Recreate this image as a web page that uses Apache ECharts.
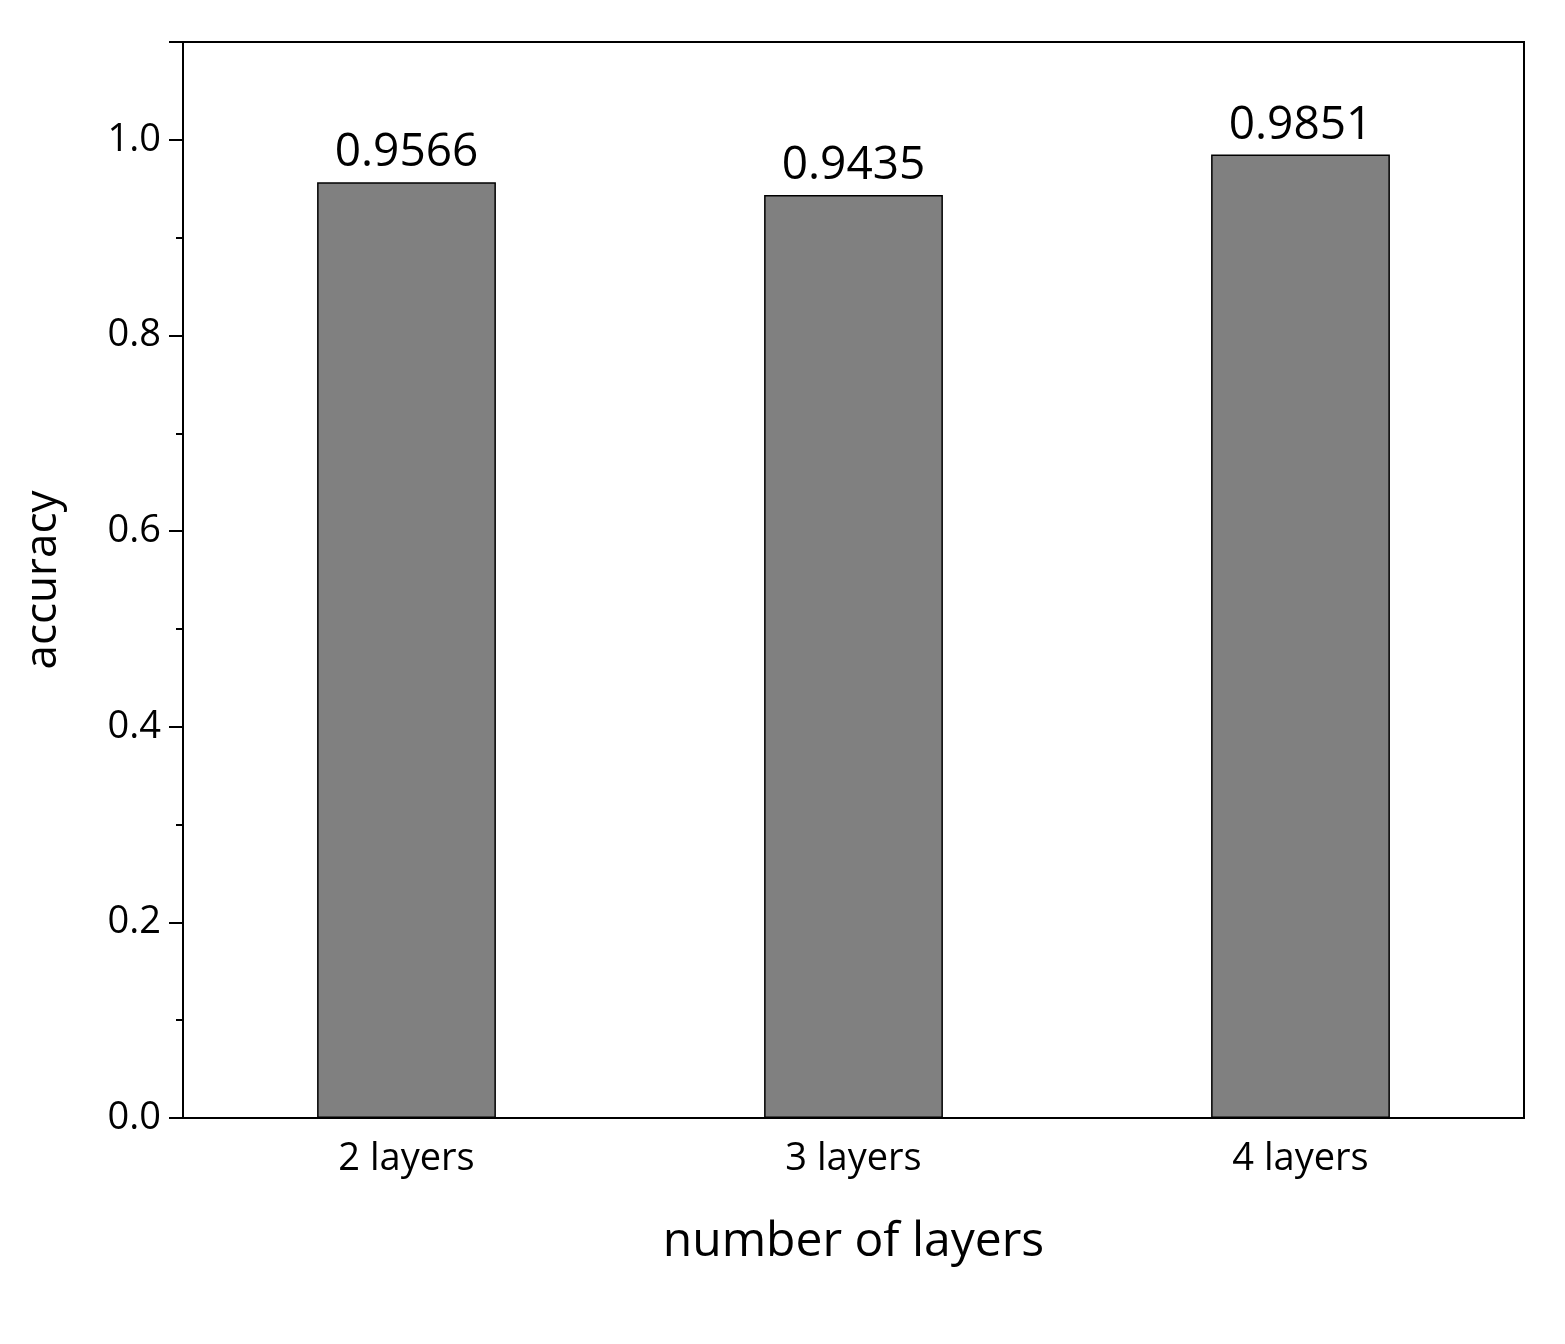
<!DOCTYPE html>
<html>
<head>
<meta charset="utf-8">
<script src="https://cdn.jsdelivr.net/npm/echarts@6/dist/echarts.min.js"></script>
<style>html,body{margin:0;background:#fff}#main{width:1565px;height:1344px}</style>
</head>
<body>
<div id="main"></div>
<script>
// 类别与数值
const categories = ["2 layers", "3 layers", "4 layers"];
const accuracy = [0.9566, 0.9435, 0.9851];

const font = "Open Sans";
const chart = echarts.init(document.getElementById("main"));
chart.setOption({
	animation: false,
	grid: { left: 183, right: 41, top: 42, bottom: 226, show: true, borderColor: "#000", borderWidth: 2 },
	xAxis: [
		{
			type: "category",
			data: categories,
			name: "number of layers",
			nameLocation: "middle",
			nameGap: 100,
			nameTextStyle: { fontFamily: font, fontSize: 48, color: "#000" },
			axisLine: { lineStyle: { color: "#000", width: 2 } },
			axisTick: { alignWithLabel: true, length: 16, lineStyle: { color: "#000", width: 2 } },
			axisLabel: { fontFamily: font, fontSize: 38, color: "#000", margin: 22 }
		},
		{
			type: "category",
			data: categories,
			position: "bottom",
			axisLine: { show: false },
			axisTick: { length: 8, lineStyle: { color: "#000", width: 2 } },
			axisLabel: { show: false }
		}
	],
	yAxis: {
		type: "value",
		min: 0,
		max: 1.1,
		interval: 0.2,
		name: "accuracy",
		nameLocation: "middle",
		nameGap: 118,
		nameTextStyle: { fontFamily: font, fontSize: 44, color: "#000" },
		axisLine: { show: true, lineStyle: { color: "#000", width: 2 } },
		axisTick: { show: true, length: 14, lineStyle: { color: "#000", width: 2 } },
		minorTick: { show: true, splitNumber: 2, length: 7, lineStyle: { color: "#000", width: 2 } },
		splitLine: { show: false },
		axisLabel: {
			fontFamily: font, fontSize: 38, color: "#000", margin: 22,
			formatter: (v) => (v > 1.05 ? "" : v.toFixed(1))
		}
	},
	series: [{
		type: "bar",
		data: accuracy,
		barWidth: "40%",
		itemStyle: { color: "#808080", borderColor: "#000", borderWidth: 1.5 },
		label: {
			show: true, position: "top", distance: 6,
			fontFamily: font, fontSize: 46, color: "#000",
			formatter: (p) => p.value.toFixed(4)
		}
	}]
});
</script>
</body>
</html>
